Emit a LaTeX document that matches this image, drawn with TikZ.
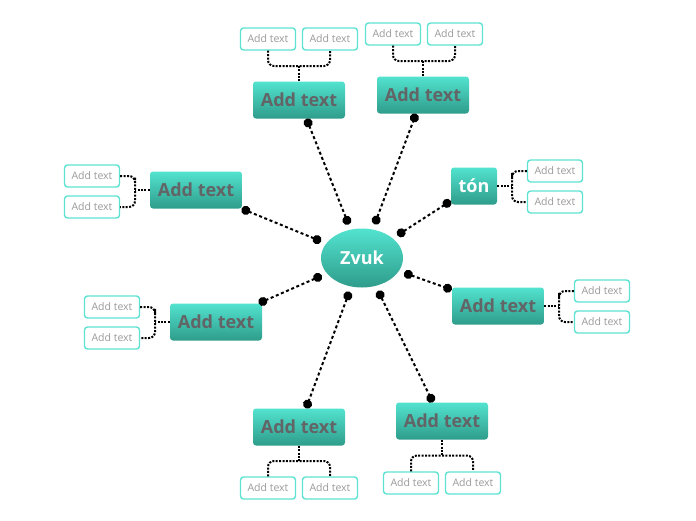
\documentclass[tikz,border=0pt]{standalone}
\usepackage{fontspec}
\setmainfont{Open Sans}
\usetikzlibrary{arrows.meta,positioning,calc,shapes.geometric}
\definecolor{MapTop}{HTML}{52E3CF}
\definecolor{MapBottom}{HTML}{2F9C8B}
\definecolor{MapEdge}{HTML}{5EE2D2}
\definecolor{MapInk}{HTML}{626466}
\definecolor{MapMuted}{HTML}{9A9A9A}

\begin{document}
\begin{tikzpicture}[x=1pt,y=-1pt,
  hub/.style={ellipse,minimum width=82pt,minimum height=59pt,inner sep=0pt,outer sep=5.5pt,
    top color=MapTop,bottom color=MapBottom,draw=none,text=white,font=\fontsize{18}{21}\selectfont\bfseries},
  topic/.style={rectangle,rounded corners=3pt,minimum width=92pt,minimum height=37pt,inner sep=0pt,
    top color=MapTop,bottom color=MapBottom,draw=none,text=MapInk,font=\fontsize{18}{21}\selectfont\bfseries},
  short/.style={topic,minimum width=46pt,text=white},
  leaf/.style={rectangle,rounded corners=3pt,draw=MapEdge,line width=1.4pt,fill=white,
    minimum width=55pt,minimum height=22pt,inner sep=0pt,text=MapMuted,font=\fontsize{10.5}{12}\selectfont},
  link/.style={line width=2pt,dash pattern=on 3pt off 2.6pt,{Circle[length=9pt]}-{Circle[length=9pt]}},
  brace/.style={line width=2pt,dash pattern=on 2pt off 1.4pt,rounded corners=6pt},
]
\useasboundingbox[fill=white] (0,0) rectangle (696,520);

\node[hub] (zvuk) at (362,258) {Zvuk};

\node[topic] (tA) at (299,100) {Add text};
\node[topic] (tB) at (423,95) {Add text};
\node[short] (ton) at (474,186) {tón};
\node[topic] (tD) at (196,190) {Add text};
\node[topic] (tE) at (498,306) {Add text};
\node[topic] (tF) at (216,322) {Add text};
\node[topic] (tG) at (299,427) {Add text};
\node[topic] (tH) at (442,421) {Add text};

\node[leaf] (sA1) at (268,39) {Add text};
\node[leaf] (sA2) at (330,39) {Add text};
\node[leaf] (sB1) at (393,34) {Add text};
\node[leaf] (sB2) at (455,34) {Add text};
\node[leaf] (sC1) at (555,171) {Add text};
\node[leaf] (sC2) at (555,202) {Add text};
\node[leaf] (sD1) at (92,176) {Add text};
\node[leaf] (sD2) at (92,207) {Add text};
\node[leaf] (sE1) at (602,291) {Add text};
\node[leaf] (sE2) at (602,322) {Add text};
\node[leaf] (sF1) at (112,307) {Add text};
\node[leaf] (sF2) at (112,338) {Add text};
\node[leaf] (sG1) at (268,488) {Add text};
\node[leaf] (sG2) at (330,488) {Add text};
\node[leaf] (sH1) at (411,483) {Add text};
\node[leaf] (sH2) at (473,483) {Add text};

\draw[link] (zvuk) -- (tA);
\draw[link] (zvuk) -- (tB);
\draw[link] (zvuk) -- (ton);
\draw[link] (zvuk) -- (tD);
\draw[link] (zvuk) -- (tE);
\draw[link] (zvuk) -- (tF);
\draw[link] (zvuk) -- (tG);
\draw[link] (zvuk) -- (tH);

\coordinate (jA) at ($(sA1.south)!0.5!(tA.north)$);
\draw[brace] (sA1.south) |- (jA) -| (sA2.south);
\draw[brace] (tA.north) -- (tA.north |- jA);
\coordinate (jB) at ($(sB1.south)!0.5!(tB.north)$);
\draw[brace] (sB1.south) |- (jB) -| (sB2.south);
\draw[brace] (tB.north) -- (tB.north |- jB);
\coordinate (jC) at ($(sC1.west)!0.5!(ton.east)$);
\draw[brace] (sC1.west) -| (jC) |- (sC2.west);
\draw[brace] (ton.east) -- (ton.east -| jC);
\coordinate (jD) at ($(sD1.east)!0.5!(tD.west)$);
\draw[brace] (sD1.east) -| (jD) |- (sD2.east);
\draw[brace] (tD.west) -- (tD.west -| jD);
\coordinate (jE) at ($(sE1.west)!0.5!(tE.east)$);
\draw[brace] (sE1.west) -| (jE) |- (sE2.west);
\draw[brace] (tE.east) -- (tE.east -| jE);
\coordinate (jF) at ($(sF1.east)!0.5!(tF.west)$);
\draw[brace] (sF1.east) -| (jF) |- (sF2.east);
\draw[brace] (tF.west) -- (tF.west -| jF);
\coordinate (jG) at ($(sG1.north)!0.5!(tG.south)$);
\draw[brace] (sG1.north) |- (jG) -| (sG2.north);
\draw[brace] (tG.south) -- (tG.south |- jG);
\coordinate (jH) at ($(sH1.north)!0.5!(tH.south)$);
\draw[brace] (sH1.north) |- (jH) -| (sH2.north);
\draw[brace] (tH.south) -- (tH.south |- jH);
\end{tikzpicture}
\end{document}
